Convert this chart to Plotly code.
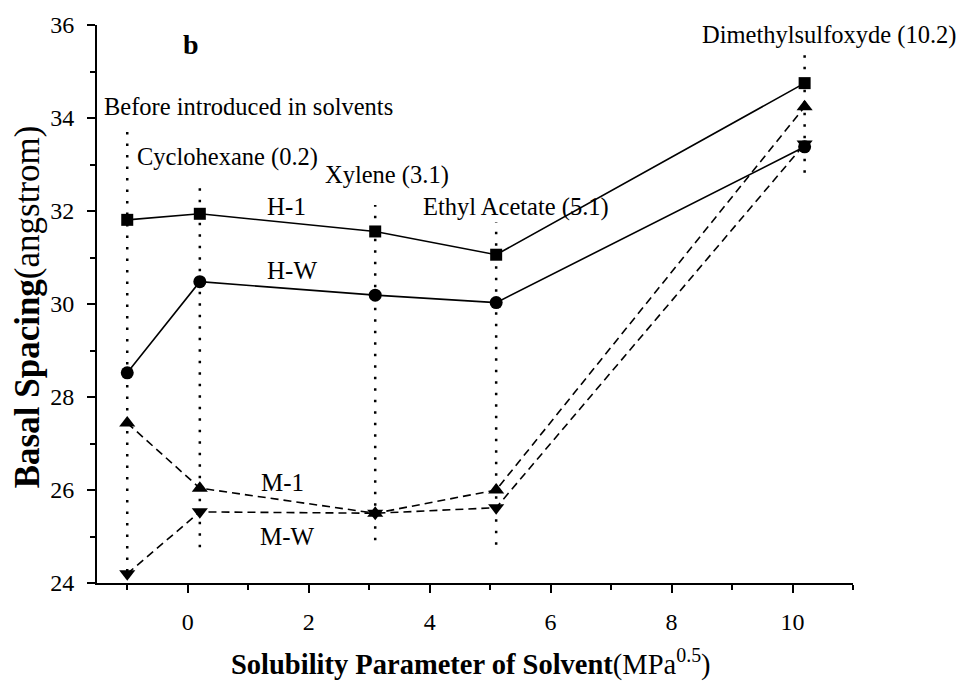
import plotly.graph_objects as go

# ---- data ----
solvent_x = [-1, 0.2, 3.1, 5.1, 10.2]
h1 = [31.81, 31.94, 31.56, 31.06, 34.75]
hw = [28.52, 30.48, 30.19, 30.03, 33.38]
m1 = [27.44, 26.04, 25.50, 26.00, 34.24]
mw = [24.20, 25.53, 25.50, 25.62, 33.44]

guide_top = [33.85, 32.50, 32.13, 31.76, 35.35]
guide_bottom = [24.25, 24.77, 24.92, 24.82, 32.82]

solvent_labels = ["Before introduced in solvents", "Cyclohexane (0.2)", "Xylene (3.1)",
                  "Ethyl Acetate (5.1)", "Dimethylsulfoxyde (10.2)"]
label_x = [-1.42, -0.88, 3.29, 5.42, 10.61]
label_y = [34.24, 33.16, 32.77, 32.09, 35.78]
label_anchor = ["left", "left", "center", "center", "center"]

series_names = ["H-1", "H-W", "M-1", "M-W"]
series_label_x = [1.64, 1.72, 1.57, 1.65]
series_label_y = [32.09, 30.73, 26.17, 24.99]

x_ticks = [0, 2, 4, 6, 8, 10]
x_minor = [-1, 1, 3, 5, 7, 9, 11]
y_ticks = [24, 26, 28, 30, 32, 34, 36]
y_minor = [25, 27, 29, 31, 33, 35]

FONT = "Liberation Serif"

fig = go.Figure()

# vertical dotted guide lines
for xv, yt, yb in zip(solvent_x, guide_top, guide_bottom):
    fig.add_trace(go.Scatter(x=[xv, xv], y=[yb, yt], mode="lines",
                             line=dict(color="black", width=2.5, dash="2.5px,9px"),
                             hoverinfo="skip", showlegend=False))

fig.add_trace(go.Scatter(x=solvent_x, y=m1, mode="lines+markers", name="M-1",
                         line=dict(color="black", width=1.6, dash="8px,5px"),
                         marker=dict(symbol="triangle-up", size=14, color="black")))
fig.add_trace(go.Scatter(x=solvent_x, y=mw, mode="lines+markers", name="M-W",
                         line=dict(color="black", width=1.6, dash="8px,5px"),
                         marker=dict(symbol="triangle-down", size=14, color="black")))
fig.add_trace(go.Scatter(x=solvent_x, y=hw, mode="lines+markers", name="H-W",
                         line=dict(color="black", width=1.6),
                         marker=dict(symbol="circle", size=13, color="black")))
fig.add_trace(go.Scatter(x=solvent_x, y=h1, mode="lines+markers", name="H-1",
                         line=dict(color="black", width=1.6),
                         marker=dict(symbol="square", size=12, color="black")))

annotations = []
for t, xv, yv, anc in zip(solvent_labels, label_x, label_y, label_anchor):
    annotations.append(dict(x=xv, y=yv, xref="x", yref="y", text=t, showarrow=False,
                            xanchor=anc, yanchor="middle",
                            font=dict(family=FONT, size=24.5, color="black")))
for t, xv, yv in zip(series_names, series_label_x, series_label_y):
    annotations.append(dict(x=xv, y=yv, xref="x", yref="y", text=t, showarrow=False,
                            xanchor="center", yanchor="middle",
                            font=dict(family=FONT, size=25, color="black")))
annotations.append(dict(x=0.05, y=35.57, xref="x", yref="y", text="<b>b</b>", showarrow=False,
                        xanchor="center", yanchor="middle",
                        font=dict(family=FONT, size=28, color="black")))
# axis titles
annotations.append(dict(x=0.495, y=-0.143, xref="paper", yref="paper",
                        text="<b>Solubility Parameter of Solvent</b>(MPa<sup>0.5</sup>)",
                        showarrow=False, xanchor="center", yanchor="middle",
                        font=dict(family=FONT, size=28.5, color="black")))
annotations.append(dict(x=-0.092, y=0.495, xref="paper", yref="paper",
                        text="<b>Basal Spacing</b>(angstrom)", textangle=-90,
                        showarrow=False, xanchor="center", yanchor="middle",
                        font=dict(family=FONT, size=35, color="black")))

fig.update_layout(
    width=964, height=684,
    margin=dict(l=97, r=111, t=25, b=101),
    paper_bgcolor="white", plot_bgcolor="white",
    showlegend=False,
    annotations=annotations,
    font=dict(family=FONT, size=24, color="black"),
)
fig.update_xaxes(range=[-1.5, 11], tickvals=x_ticks, ticks="outside", ticklen=8,
                 tickwidth=2, tickcolor="black", showline=True, linecolor="black", linewidth=2,
                 showgrid=False, zeroline=False, ticklabelstandoff=8,
                 tickfont=dict(family=FONT, size=24, color="black"),
                 minor=dict(tickvals=x_minor, ticks="outside", ticklen=5,
                            tickwidth=2, tickcolor="black", showgrid=False))
fig.update_yaxes(range=[24, 36], tickvals=y_ticks, ticks="outside", ticklen=8,
                 tickwidth=2, tickcolor="black", showline=True, linecolor="black", linewidth=2,
                 showgrid=False, zeroline=False, ticklabelstandoff=8,
                 tickfont=dict(family=FONT, size=24, color="black"),
                 minor=dict(tickvals=y_minor, ticks="outside", ticklen=5,
                            tickwidth=2, tickcolor="black", showgrid=False))

fig.write_html("out.html")
